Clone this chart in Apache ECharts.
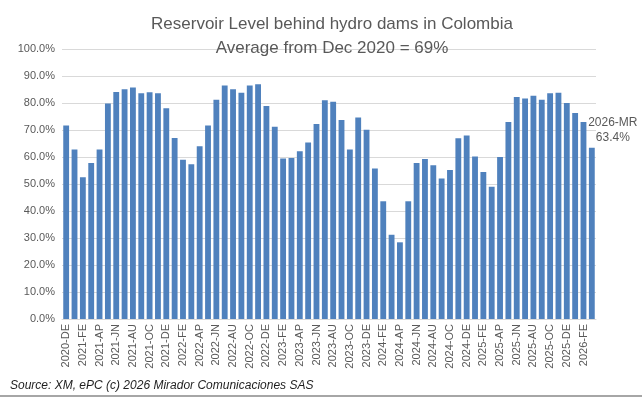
<!DOCTYPE html>
<html>
<head>
<meta charset="utf-8">
<script src="https://cdn.jsdelivr.net/npm/echarts@6/dist/echarts.min.js"></script>
<style>
  html, body { margin: 0; padding: 0; background: #fff; }
  #chart { width: 642px; height: 397px; }
</style>
</head>
<body>
<div id="chart"></div>
<script>
// monthly reservoir level, Dec 2020 .. Mar 2026
const months = [
  '2020-DE',
  '2021-JA', '2021-FE', '2021-MR', '2021-AP', '2021-MY', '2021-JN', '2021-JL', '2021-AU', '2021-SE', '2021-OC', '2021-NO', '2021-DE',
  '2022-JA', '2022-FE', '2022-MR', '2022-AP', '2022-MY', '2022-JN', '2022-JL', '2022-AU', '2022-SE', '2022-OC', '2022-NO', '2022-DE',
  '2023-JA', '2023-FE', '2023-MR', '2023-AP', '2023-MY', '2023-JN', '2023-JL', '2023-AU', '2023-SE', '2023-OC', '2023-NO', '2023-DE',
  '2024-JA', '2024-FE', '2024-MR', '2024-AP', '2024-MY', '2024-JN', '2024-JL', '2024-AU', '2024-SE', '2024-OC', '2024-NO', '2024-DE',
  '2025-JA', '2025-FE', '2025-MR', '2025-AP', '2025-MY', '2025-JN', '2025-JL', '2025-AU', '2025-SE', '2025-OC', '2025-NO', '2025-DE',
  '2026-JA', '2026-FE', '2026-MR',
]
const levels = [
  71.7,
  62.8, 52.5, 57.8, 62.8, 79.8, 84.1, 85.1, 85.7, 83.6, 84.0, 83.6, 78.1,
  67.0, 59.0, 57.3, 64.0, 71.7, 81.2, 86.5, 85.1, 83.8, 86.5, 86.9, 78.9,
  71.2, 59.4, 59.6, 62.1, 65.4, 72.2, 81.0, 80.5, 73.7, 62.8, 74.6, 70.1,
  55.7, 43.6, 31.2, 28.4, 43.6, 57.8, 59.3, 56.9, 52.0, 55.2, 66.9, 68.0,
  60.2, 54.4, 49.0, 60.0, 73.0, 82.2, 81.7, 82.7, 81.2, 83.6, 83.8, 80.0,
  76.3, 73.0, 63.4,
]
const titleLines = ['Reservoir Level behind hydro dams in Colombia', 'Average from Dec 2020 = 69%']
const sourceText = 'Source: XM, ePC (c) 2026 Mirador Comunicaciones SAS'

const grey = '#595959'
const fontFamily = '"Liberation Sans", Arial, sans-serif'

const lastIdx = levels.length - 1
const barData = levels.map((v, i) => {
  if (i !== lastIdx) return v
  return {
    value: v,
    label: {
      show: true,
      position: 'top',
      offset: [21, 2],
      color: grey,
      fontSize: 12,
      fontFamily: fontFamily,
      lineHeight: 15,
      formatter: months[i] + '\n' + v.toFixed(1) + '%',
    },
  }
})

const chart = echarts.init(document.getElementById('chart'))
chart.setOption({
  backgroundColor: '#fff',
  animation: false,
  title: {
    text: titleLines.join('\n'),
    left: 327,
    top: 7,
    textAlign: 'center',
    textStyle: {
      color: grey,
      fontSize: 17,
      fontWeight: 'normal',
      fontFamily: fontFamily,
      lineHeight: 24,
    },
  },
  grid: {
    left: 62,
    right: 46,
    top: 49,
    bottom: 78,
  },
  xAxis: {
    type: 'category',
    data: months,
    axisLine: { lineStyle: { color: '#d9d9d9' } },
    axisTick: { show: false },
    axisLabel: {
      interval: 1,
      rotate: 90,
      color: grey,
      fontSize: 11,
      fontFamily: fontFamily,
      margin: 5,
    },
  },
  yAxis: {
    type: 'value',
    min: 0,
    max: 100,
    interval: 10,
    axisLine: { show: false },
    axisTick: { show: false },
    splitLine: { lineStyle: { color: '#d9d9d9' } },
    axisLabel: {
      color: grey,
      fontSize: 11,
      fontFamily: fontFamily,
      margin: 7,
      formatter: (v) => v.toFixed(1) + '%',
    },
  },
  series: [
    {
      type: 'bar',
      data: barData,
      barCategoryGap: '30%',
      itemStyle: { color: '#4f81bd' },
    },
  ],
  graphic: [
    {
      type: 'text',
      left: 10,
      top: 380,
      style: {
        text: sourceText,
        fill: '#1f1f1f',
        fontSize: 12,
        fontStyle: 'italic',
        fontFamily: fontFamily,
      },
    },
    {
      type: 'rect',
      left: 0,
      top: 395,
      shape: { width: 642, height: 2 },
      style: { fill: '#a6a6a6' },
    },
  ],
})
</script>
</body>
</html>
